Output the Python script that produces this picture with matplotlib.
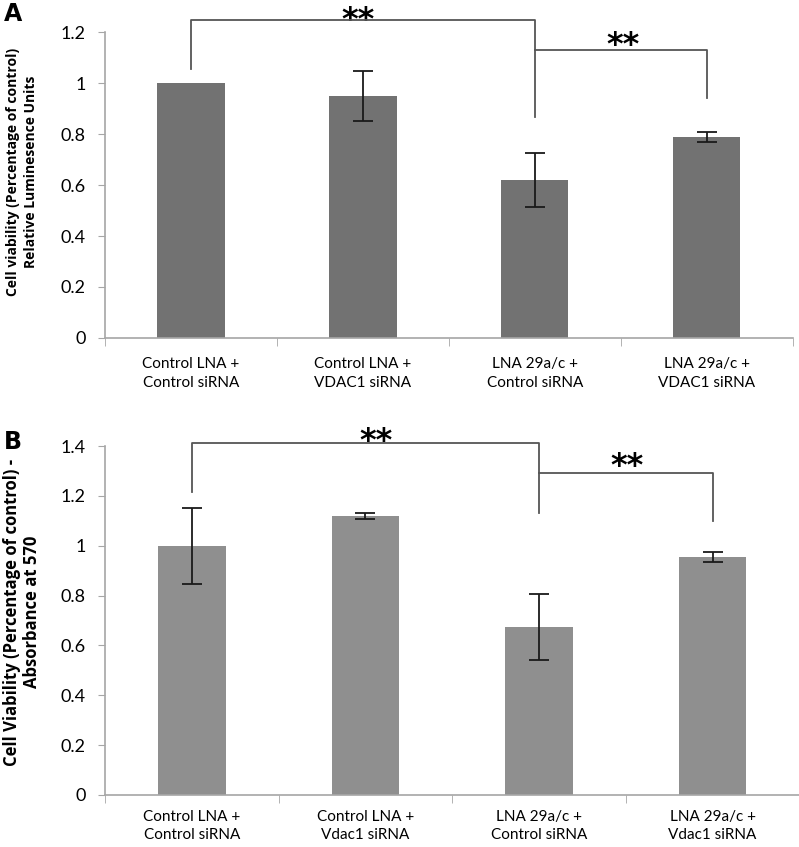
import matplotlib
matplotlib.use("Agg")
import matplotlib.pyplot as plt
import numpy as np

# panel A: luminescence
labels_a = ["Control LNA +\nControl siRNA", "Control LNA +\nVDAC1 siRNA",
            "LNA 29a/c +\nControl siRNA", "LNA 29a/c +\nVDAC1 siRNA"]
values_a = [1.0, 0.95, 0.62, 0.79]
errors_a = [0.0, 0.097, 0.105, 0.02]

# panel B: absorbance
labels_b = ["Control LNA +\nControl siRNA", "Control LNA +\nVdac1 siRNA",
            "LNA 29a/c +\nControl siRNA", "LNA 29a/c +\nVdac1 siRNA"]
values_b = [1.0, 1.12, 0.675, 0.955]
errors_b = [0.152, 0.012, 0.133, 0.02]

# brackets: (x_left, x_right, y_top, y_left_end, y_right_end)
brackets_a = [(0, 2, 1.248, 1.055, 0.866), (2, 3, 1.13, 1.13, 0.94)]
brackets_b = [(0, 2, 1.412, 1.216, 1.132), (2, 3, 1.292, 1.292, 1.10)]
stars_a = [(0.97, 1.212), (2.51, 1.116)]
stars_b = [(1.06, 1.386), (2.51, 1.282)]

plt.rcParams["font.family"] = ["Lato", "DejaVu Sans"]

fig = plt.figure(figsize=(7.99, 8.47), dpi=100)
ax_a = fig.add_axes([0.1314, 0.601, 0.861, 0.361])
ax_b = fig.add_axes([0.1314, 0.0614, 0.869, 0.412])

axis_grey = "#a6a6a6"
bracket_col = "#555555"


def fmt_tick(v):
    if abs(v) < 1e-9:
        return "0"
    if abs(v - 1) < 1e-9:
        return "1"
    return f"{v:.1f}"


def draw_panel(ax, labels, values, errors, color, ymax, brackets, stars, xpad, lsp):
    x = np.arange(len(values))
    ax.bar(x, values, width=0.39, color=color, zorder=2)
    err = np.array(errors)
    has_err = err > 0
    ax.errorbar(x[has_err], np.array(values)[has_err], yerr=err[has_err], fmt="none",
                ecolor="#1a1a1a", elinewidth=1.3, capsize=7, capthick=1.3, zorder=3)
    ax.set_xlim(-0.5, len(values) - 0.5)
    ax.set_ylim(0, ymax)
    yt = np.arange(0, ymax + 0.01, 0.2)
    ax.set_yticks(yt)
    ax.set_yticklabels([fmt_tick(v) for v in yt])
    ax.set_xticks(x)
    ax.set_xticklabels(labels, linespacing=lsp)
    ax.set_xticks(np.arange(-0.5, len(values)), minor=True)
    ax.tick_params(axis="x", which="major", length=0, pad=xpad, labelsize=11)
    ax.tick_params(axis="x", which="minor", length=6, color=axis_grey, direction="out")
    ax.tick_params(axis="y", length=5, color=axis_grey, pad=9, labelsize=13)
    for side in ["top", "right"]:
        ax.spines[side].set_visible(False)
    for side in ["left", "bottom"]:
        ax.spines[side].set_color(axis_grey)
        ax.spines[side].set_linewidth(1.2)

    for (xl, xr, yt_, yl, yr) in brackets:
        ax.plot([xl, xl, xr, xr], [yl, yt_, yt_, yr], color=bracket_col,
                lw=1.3, clip_on=False, zorder=4)
    for (sx, sy) in stars:
        ax.text(sx, sy, "**", ha="center", va="baseline", fontsize=23,
                family="DejaVu Sans", fontweight="bold", clip_on=False)


draw_panel(ax_a, labels_a, values_a, errors_a, "#727272", 1.2, brackets_a, stars_a, 14, 1.45)
draw_panel(ax_b, labels_b, values_b, errors_b, "#8f8f8f", 1.4, brackets_b, stars_b, 11, 1.35)

fig.text(22 / 799, 1 - 172 / 847,
         "Cell viability (Percentage of control)\nRelative Luminesence Units",
         rotation=90, ha="center", va="center", fontweight="bold", fontsize=10,
         family="Open Sans", linespacing=1.3)
fig.text(22 / 799, 1 - 612 / 847,
         "Cell Viability (Percentage of control) -\nAbsorbance at 570",
         rotation=90, ha="center", va="center", fontweight="bold", fontsize=12,
         family="Open Sans", linespacing=1.1)

fig.text(0.005, 0.983, "A", family="DejaVu Sans", fontweight="bold",
         fontsize=17, va="center", ha="left")
fig.text(0.005, 0.478, "B", family="DejaVu Sans", fontweight="bold",
         fontsize=17, va="center", ha="left")

fig.savefig("out.png", dpi=100)
